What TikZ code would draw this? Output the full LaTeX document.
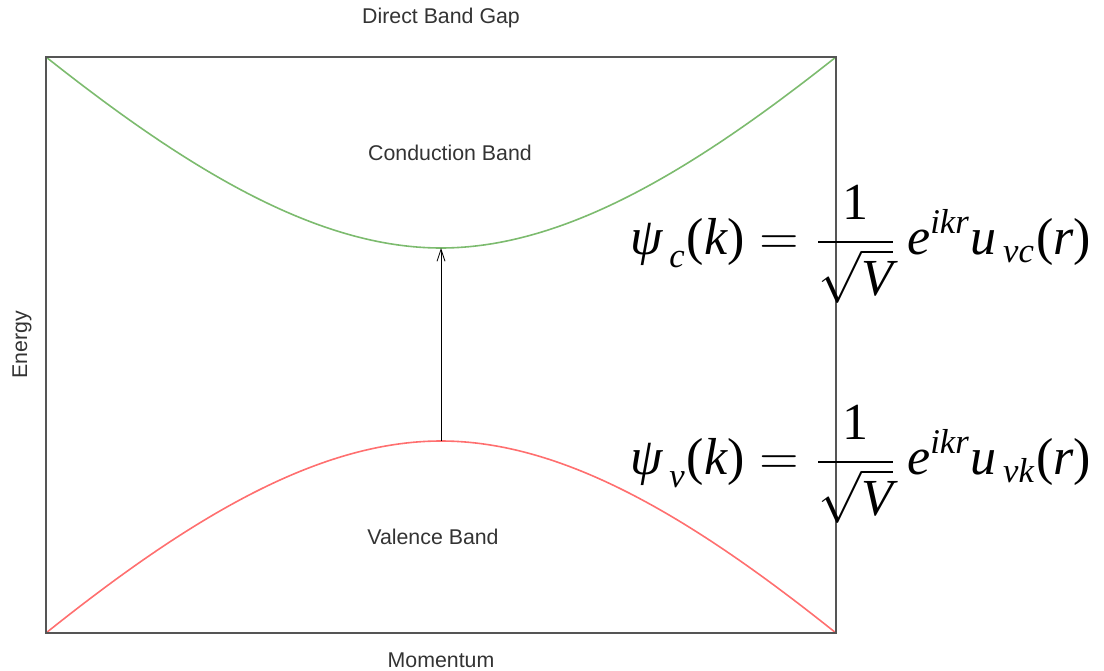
\documentclass[tikz,border=0pt]{standalone}
\usepackage{amsmath}
\usepackage{fontspec}
\setmainfont{Liberation Serif}
\newfontfamily\labfont{Liberation Sans}
\definecolor{frame}{HTML}{555555}
\definecolor{cband}{HTML}{7CBB6E}
\definecolor{vband}{HTML}{FF6F6F}
\definecolor{txt}{HTML}{333333}
\usetikzlibrary{arrows.meta,positioning}
\tikzset{
  lab/.style={font=\labfont\fontsize{16}{19}\selectfont,text=txt,inner sep=0pt},
  band/.style={line width=1.2pt},
  eq/.style={font=\fontsize{12}{14}\selectfont,scale=3.25,inner sep=0pt,anchor=west},
  gap/.style={-{Straight Barb[length=9pt,width=6pt]},line width=0.6pt},
}
\newcommand{\mi}[1]{\text{\itshape #1}}

\begin{document}
\begin{tikzpicture}[x=0.75pt,y=-0.75pt]
\useasboundingbox (0,0) rectangle (1104,671);
% frame corners and band extrema
\coordinate (tl) at (46,57);
\coordinate (tr) at (836,57);
\coordinate (bl) at (46,633);
\coordinate (br) at (836,633);
\coordinate (cmin) at (441,248);
\coordinate (vmax) at (441,441);
% bands
\draw[cband,band] (tl) .. controls (186,168) and (316,248) .. (cmin)
  .. controls (566,248) and (696,168) .. (tr);
\draw[vband,band] (bl) .. controls (186,521) and (316,441) .. (vmax)
  .. controls (566,441) and (696,521) .. (br);
\draw[frame,line width=1.6pt] (tl) rectangle (br);
\draw[gap] (vmax) -- (cmin);
% labels
\node[lab] (title) at (441,18) {Direct Band Gap};
\node[lab] (cblab) at (450,153) {Conduction Band};
\node[lab] (vblab) at (433,537) {Valence Band};
\node[lab,rotate=90] (ylab) at (22,345) {Energy};
\node[lab] (xlab) at (441,660) {Momentum};
% wave functions
\node[eq] (psic) at (630,244) {$\displaystyle\mi{ψ}_{\,\mi{c}}\text{(}\mi{k}\text{)}=\dfrac{\text{1}}{\sqrt{\mi{V}}}\,\mi{e}^{\mi{ikr}}\mi{u}_{\,\mi{vc}}\text{(}\mi{r}\text{)}$};
\node[eq] (psiv) at (630,464) {$\displaystyle\mi{ψ}_{\,\mi{v}}\text{(}\mi{k}\text{)}=\dfrac{\text{1}}{\sqrt{\mi{V}}}\,\mi{e}^{\mi{ikr}}\mi{u}_{\,\mi{vk}}\text{(}\mi{r}\text{)}$};
\end{tikzpicture}
\end{document}
